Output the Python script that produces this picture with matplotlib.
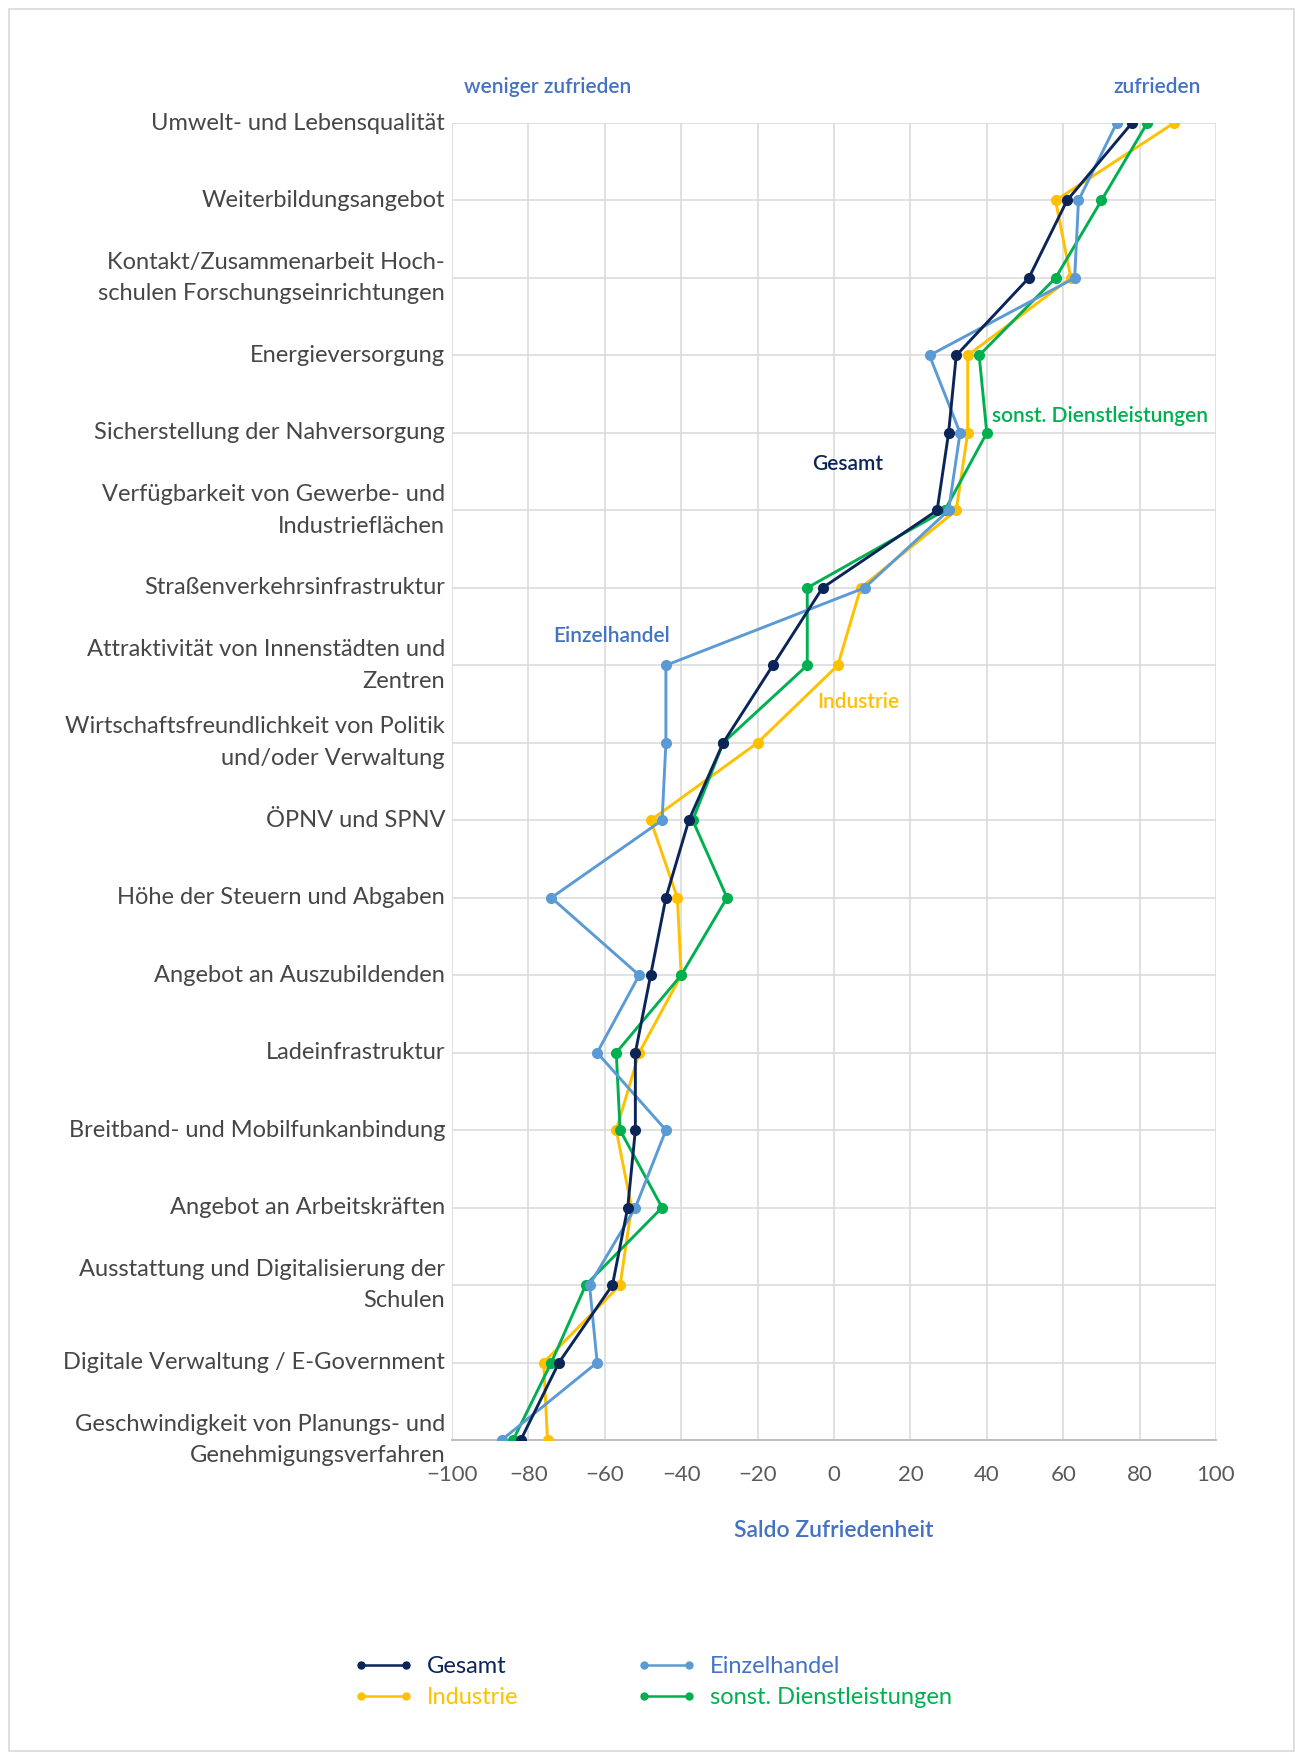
import matplotlib as mplt
mplt.use('Agg')
import matplotlib.pyplot as plt
from matplotlib.patches import Rectangle
import numpy as np

mplt.rcParams['font.family'] = ['Lato', 'DejaVu Sans']

# Standortfaktoren, von oben nach unten
categories = [
    "Umwelt- und Lebensqualität",
    "Weiterbildungsangebot",
    "Kontakt/Zusammenarbeit Hoch-\nschulen Forschungseinrichtungen",
    "Energieversorgung",
    "Sicherstellung der Nahversorgung",
    "Verfügbarkeit von Gewerbe- und\nIndustrieflächen",
    "Straßenverkehrsinfrastruktur",
    "Attraktivität von Innenstädten und\nZentren",
    "Wirtschaftsfreundlichkeit von Politik\nund/oder Verwaltung",
    "ÖPNV und SPNV",
    "Höhe der Steuern und Abgaben",
    "Angebot an Auszubildenden",
    "Ladeinfrastruktur",
    "Breitband- und Mobilfunkanbindung",
    "Angebot an Arbeitskräften",
    "Ausstattung und Digitalisierung der\nSchulen",
    "Digitale Verwaltung / E-Government",
    "Geschwindigkeit von Planungs- und\nGenehmigungsverfahren",
]

# Saldo Zufriedenheit je Branche
gesamt       = [78, 61, 51, 32, 30, 27, -3, -16, -29, -38, -44, -48, -52, -52, -54, -58, -72, -82]
einzelhandel = [74, 64, 63, 25, 33, 30, 8, -44, -44, -45, -74, -51, -62, -44, -52, -64, -62, -87]
industrie    = [89, 58, 62, 35, 35, 32, 7, 1, -20, -48, -41, -40, -51, -57, -53, -56, -76, -75]
dienstleist  = [82, 70, 58, 38, 40, 29, -7, -7, -29, -37, -28, -40, -57, -56, -45, -65, -74, -84]

xticks = [-100, -80, -60, -40, -20, 0, 20, 40, 60, 80, 100]

c_gesamt = "#0B2559"
c_einzel = "#5B9BD5"
c_indus  = "#FFC000"
c_dienst = "#00B050"
c_label_blue = "#4472C4"

W, H = 1295, 1753
fig = plt.figure(figsize=(W / 100, H / 100), dpi=100)
fig.patches.append(Rectangle((9 / W, 2 / H), 1285 / W, 1 - 11 / H, transform=fig.transFigure,
                             fill=False, edgecolor="#D9D9D9", linewidth=1.2))

ax = fig.add_axes([452 / W, 1 - 1440 / H, (1216 - 452) / W, (1440 - 123) / H])

y = np.arange(len(categories))
lw, ms = 2.1, 7
ax.plot(industrie, y, color=c_indus, lw=lw, marker="o", ms=ms, label="Industrie", zorder=3)
ax.plot(dienstleist, y, color=c_dienst, lw=lw, marker="o", ms=ms, label="sonst. Dienstleistungen", zorder=4)
ax.plot(einzelhandel, y, color=c_einzel, lw=lw, marker="o", ms=ms, label="Einzelhandel", zorder=5)
ax.plot(gesamt, y, color=c_gesamt, lw=lw, marker="o", ms=ms, label="Gesamt", zorder=6)

ax.set_xlim(-100, 100)
ax.set_ylim(len(categories) - 1, 0)
ax.set_xticks(xticks)
ax.set_xticklabels([str(v).replace("-", "\u2212") for v in xticks])
ax.set_yticks(y)
ax.set_yticklabels(categories)
for lab in ax.get_yticklabels():
    lab.set_verticalalignment("center")
    lab.set_linespacing(1.62)

ax.grid(True, color="#D9D9D9", linewidth=1.1)
ax.set_axisbelow(True)
for side in ["top", "right", "left"]:
    ax.spines[side].set_visible(False)
ax.spines["bottom"].set_color("#BFBFBF")
ax.spines["bottom"].set_linewidth(1.4)
ax.tick_params(axis="x", length=0, pad=18, labelsize=16, labelcolor="#5A5A5A")
ax.tick_params(axis="y", length=0, pad=5, labelsize=17, labelcolor="#464646")

ax.set_xlabel("Saldo Zufriedenheit", fontsize=16.5, color=c_label_blue, fontweight="semibold", labelpad=25)

# Beschriftungen im Diagramm
lab_kw = dict(fontsize=15, fontweight="semibold", va="center", clip_on=False)
ax.text(-96.8, -0.46, "weniger zufrieden", color=c_label_blue, ha="left", **lab_kw)
ax.text(95.9, -0.46, "zufrieden", color=c_label_blue, ha="right", **lab_kw)
ax.text(41.4, 3.78, "sonst. Dienstleistungen", color=c_dienst, ha="left", **lab_kw)
ax.text(-5.6, 4.40, "Gesamt", color=c_gesamt, ha="left", **lab_kw)
ax.text(-73.6, 6.62, "Einzelhandel", color=c_label_blue, ha="left", **lab_kw)
ax.text(-4.4, 7.47, "Industrie", color=c_indus, ha="left", **lab_kw)

handles, labels = ax.get_legend_handles_labels()
order = [3, 0, 2, 1]
leg = fig.legend([handles[i] for i in order], [labels[i] for i in order], ncol=2, frameon=False,
                 loc="center", bbox_to_anchor=(653 / W, 1 - 1682 / H), fontsize=17,
                 numpoints=2, handlelength=2.5, handletextpad=0.6, columnspacing=5.0,
                 labelspacing=0.42)
for line in leg.get_lines():
    line.set_markersize(5)
    line.set_linewidth(1.8)
text_colors = {"Gesamt": c_gesamt, "Industrie": c_indus, "Einzelhandel": c_label_blue,
               "sonst. Dienstleistungen": c_dienst}
for txt in leg.get_texts():
    txt.set_color(text_colors[txt.get_text()])

fig.savefig("out.png", dpi=100)
